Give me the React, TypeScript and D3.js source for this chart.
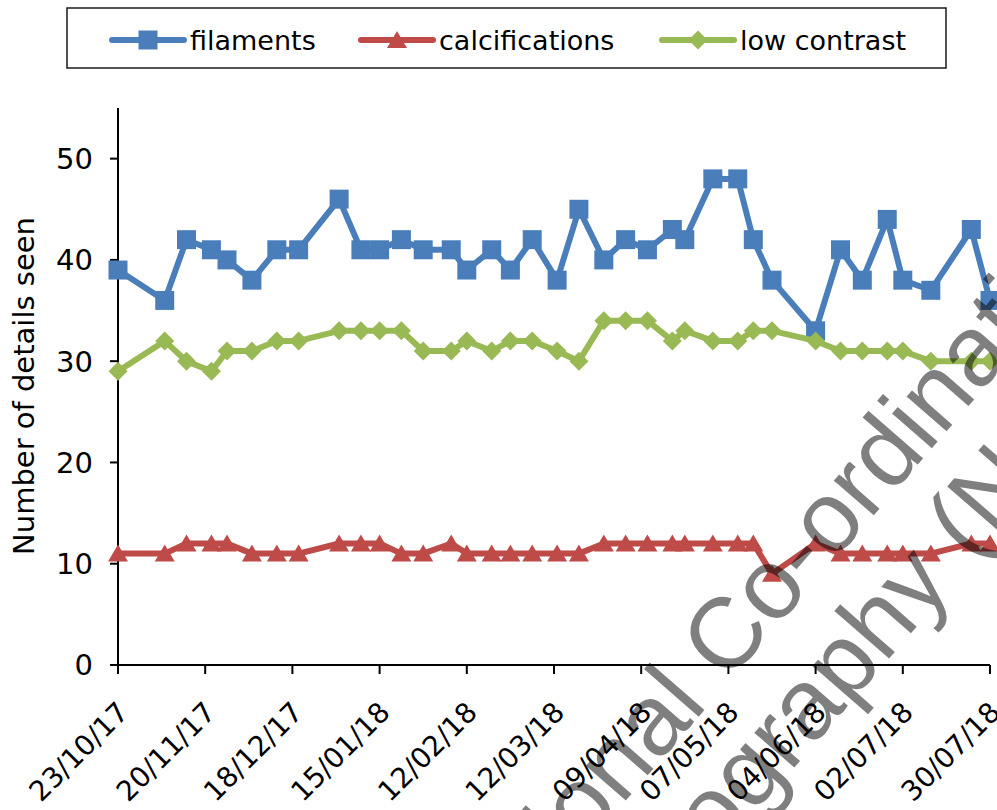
import React from 'react';
import * as d3 from 'd3';

const dates = [
  '2017-10-23', '2017-11-07', '2017-11-14', '2017-11-22', '2017-11-27', '2017-12-05',
  '2017-12-13', '2017-12-20', '2018-01-02', '2018-01-09', '2018-01-15', '2018-01-22',
  '2018-01-29', '2018-02-07', '2018-02-12', '2018-02-20', '2018-02-26', '2018-03-05',
  '2018-03-13', '2018-03-20', '2018-03-28', '2018-04-04', '2018-04-11', '2018-04-19',
  '2018-04-23', '2018-05-02', '2018-05-10', '2018-05-15', '2018-05-21', '2018-06-04',
  '2018-06-12', '2018-06-19', '2018-06-27', '2018-07-02', '2018-07-11', '2018-07-24',
  '2018-07-30',
];
const filaments = [39, 36, 42, 41, 40, 38, 41, 41, 46, 41, 41, 42, 41, 41, 39, 41, 39, 42, 38, 45, 40, 42, 41, 43, 42, 48, 48, 42, 38, 33, 41, 38, 44, 38, 37, 43, 36];
const calcifications = [11, 11, 12, 12, 12, 11, 11, 11, 12, 12, 12, 11, 11, 12, 11, 11, 11, 11, 11, 11, 12, 12, 12, 12, 12, 12, 12, 12, 9, 12, 11, 11, 11, 11, 11, 12, 12];
const lowContrast = [29, 32, 30, 29, 31, 31, 32, 32, 33, 33, 33, 33, 31, 31, 32, 31, 32, 32, 31, 30, 34, 34, 34, 32, 33, 32, 32, 33, 33, 32, 31, 31, 31, 31, 30, 30, 30];
const tickDates = ['2017-10-23', '2017-11-20', '2017-12-18', '2018-01-15', '2018-02-12', '2018-03-12', '2018-04-09', '2018-05-07', '2018-06-04', '2018-07-02', '2018-07-30'];
const yTicks = [0, 10, 20, 30, 40, 50];
const seriesNames = ['filaments', 'calcifications', 'low contrast'];
const seriesColors = ['#4A7EBB', '#BE4B48', '#98B954'];
const markerTypes = ['square', 'triangle', 'diamond'];
const yTitle = 'Number of details seen';
const watermarkLine1 = ['National', 'Co-ordinating Centre for the'];
const watermarkLine2 = ['Physics of Mammography', '(NCCPM)'];

const W = 997;
const H = 810;
const parse = d3.utcParse('%Y-%m-%d');
const fmt = d3.utcFormat('%d/%m/%y');

function markerPath(type: string) {
  if (type === 'square') return 'M-9.5,-9.5H9.5V9.5H-9.5Z';
  if (type === 'triangle') return 'M0,-9L10,8L-10,8Z';
  return 'M0,-9.5L9.5,0L0,9.5L-9.5,0Z';
}

export default function App() {
  const x = d3.scaleUtc().domain([parse(tickDates[0])!, parse(tickDates[tickDates.length - 1])!]).range([118, 990]);
  const y = d3.scaleLinear().domain([0, 55]).range([665, 108]);
  const parsed = dates.map((d) => parse(d)!);
  const allSeries = [filaments, calcifications, lowContrast];
  const line = d3.line<number>().x((_, i) => x(parsed[i])).y((v) => y(v));

  const legendX = [112, 361, 662];
  const font = "'DejaVu Sans', sans-serif";
  const ang = -49;
  const rad = (ang * Math.PI) / 180;
  const ux = Math.cos(rad);
  const uy = Math.sin(rad);
  const sp = 27.8;
  const a1 = [727, 684];
  const a2 = [972, 563];

  return (
    <svg width={W} height={H} style={{ position: 'absolute', left: 0, top: 0, background: '#fff' }} fontFamily={font}>
      <rect x={0} y={0} width={W} height={H} fill="#fff" />
      {/* legend */}
      <rect x={67} y={8} width={879} height={60} fill="#fff" stroke="#1a1a1a" strokeWidth={1.5} />
      {seriesNames.map((n, i) => (
        <g key={n}>
          <line x1={legendX[i]} x2={legendX[i] + 72} y1={40} y2={40} stroke={seriesColors[i]} strokeWidth={6} strokeLinecap="round" />
          <path d={markerPath(markerTypes[i])} transform={`translate(${legendX[i] + 36},40)`} fill={seriesColors[i]} />
          <text x={legendX[i] + 78} y={50} fontSize={27} fill="#000">{n}</text>
        </g>
      ))}
      {/* y axis */}
      <line x1={118} x2={118} y1={y(55)} y2={y(0)} stroke="#000" strokeWidth={2} />
      {yTicks.map((t) => (
        <g key={t}>
          <line x1={110} x2={118} y1={y(t)} y2={y(t)} stroke="#000" strokeWidth={2} />
          <text x={93} y={y(t)} dy="0.36em" textAnchor="end" fontSize={29} fill="#000">{t}</text>
        </g>
      ))}
      <text transform={`translate(34,386) rotate(-90)`} textAnchor="middle" fontSize={29} fill="#000">{yTitle}</text>
      {/* x axis */}
      <line x1={118} x2={990} y1={665} y2={665} stroke="#000" strokeWidth={2} />
      {tickDates.map((t) => {
        const tx = x(parse(t)!);
        return (
          <g key={t}>
            <line x1={tx} x2={tx} y1={665} y2={674} stroke="#000" strokeWidth={2} />
            <text transform={`translate(${tx + 12},714) rotate(-45)`} textAnchor="end" fontSize={28} fill="#000">{fmt(parse(t)!)}</text>
          </g>
        );
      })}
      {/* series */}
      {allSeries.map((s, i) => (
        <g key={seriesNames[i]}>
          <path d={line(s) || ''} fill="none" stroke={seriesColors[i]} strokeWidth={6} strokeLinejoin="round" />
          {s.map((v, j) => (
            <path key={j} d={markerPath(markerTypes[i])} transform={`translate(${x(parsed[j])},${y(v)})`} fill={seriesColors[i]} />
          ))}
        </g>
      ))}
      {/* watermark */}
      <g fontFamily="'Liberation Sans', Arial, sans-serif" fontSize={100} fill="#000" fillOpacity={0.5}>
        <text transform={`translate(${a1[0] - sp * ux},${a1[1] - sp * uy}) rotate(${ang})`} textAnchor="end">{watermarkLine1[0]}</text>
        <text transform={`translate(${a1[0]},${a1[1]}) rotate(${ang})`}>{watermarkLine1[1]}</text>
        <text transform={`translate(${a2[0] - sp * ux},${a2[1] - sp * uy}) rotate(${ang})`} textAnchor="end">{watermarkLine2[0]}</text>
        <text transform={`translate(${a2[0]},${a2[1]}) rotate(${ang})`}>{watermarkLine2[1]}</text>
      </g>
    </svg>
  );
}
